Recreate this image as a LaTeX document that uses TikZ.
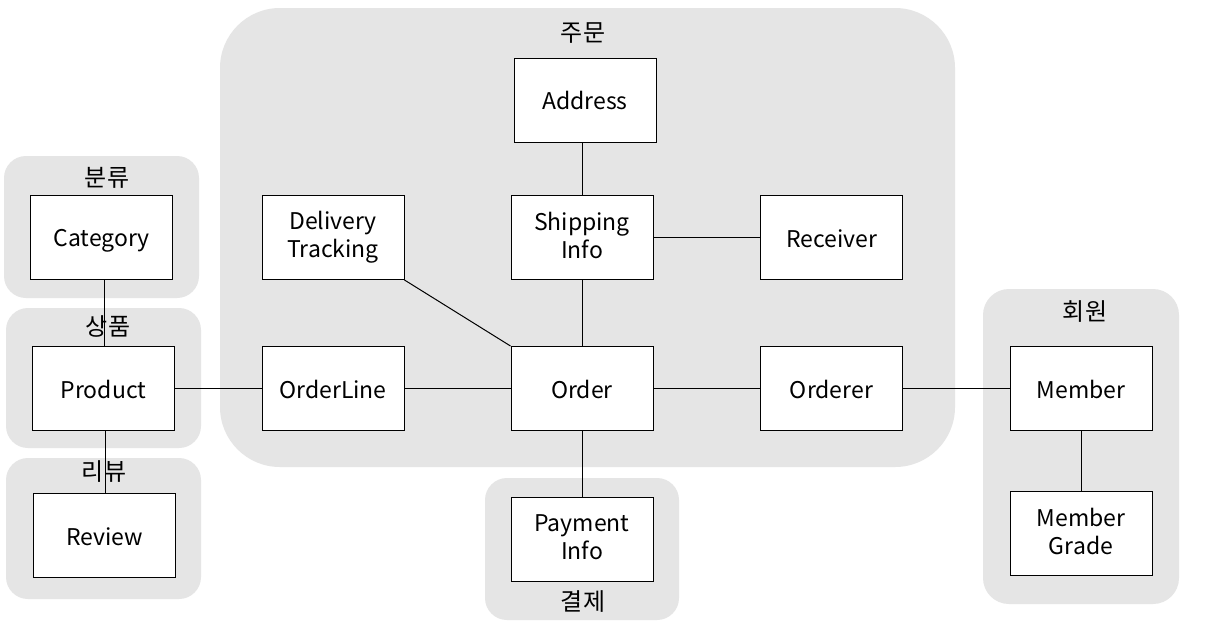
\documentclass[tikz,border=0pt]{standalone}
\usepackage{fontspec}
\setmainfont{Noto Sans CJK KR}
\usetikzlibrary{positioning}

\newcommand\estrut{\rule[-4.4pt]{0pt}{28pt}}
\newcommand\entityfont{\fontsize{23}{28}\selectfont\lineskiplimit=-20pt\relax}

\tikzset{
  areabox/.style={fill=black!10, draw=none},
  entity/.style={draw, fill=white, line width=1pt, minimum width=142pt,
    minimum height=84pt, align=center, font=\entityfont,
    execute at begin node=\estrut},
  arealabel/.style={font=\fontsize{24}{26}\selectfont, inner sep=0pt},
  link/.style={line width=1pt}
}

\begin{document}
\begin{tikzpicture}[x=1pt,y=-1pt]
  \useasboundingbox[fill=white] (0,0) rectangle (1207,633);
  % areas
  \fill[areabox, rounded corners=60pt] (220,8) rectangle (955,467);
  \fill[areabox, rounded corners=22pt] (4,156) rectangle (199,298);
  \fill[areabox, rounded corners=22pt] (6,308) rectangle (201,448);
  \fill[areabox, rounded corners=22pt] (6,458) rectangle (201,599);
  \fill[areabox, rounded corners=22pt] (485,478) rectangle (679,620);
  \fill[areabox, rounded corners=26pt] (983,289) rectangle (1179,604);
  \node[arealabel] (tOrder)  at (583,33)   {주문};
  \node[arealabel] (tCat)    at (107,178)  {분류};
  \node[arealabel] (tProd)   at (108,326)  {상품};
  \node[arealabel] (tReview) at (104,472)  {리뷰};
  \node[arealabel] (tPay)    at (583,601)  {결제};
  \node[arealabel] (tMember) at (1085,312) {회원};
  % entities
  \node[entity] (addr)    at (585,100)     {Address};
  \node[entity] (track)   at (333,237.5)   {Delivery\\\estrut Tracking};
  \node[entity] (ship)    at (582,237.5)   {Shipping\\\estrut Info};
  \node[entity] (recv)    at (831.5,237.5) {Receiver};
  \node[entity] (cat)     at (101.5,237.5) {Category};
  \node[entity] (prod)    at (103.5,388.5) {Product};
  \node[entity] (line)    at (333,388.5)   {OrderLine};
  \node[entity] (order)   at (582,388.5)   {Order};
  \node[entity] (orderer) at (831.5,388.5) {Orderer};
  \node[entity] (member)  at (1081,388.5)  {Member};
  \node[entity] (review)  at (104.5,535.5) {Review};
  \node[entity] (pay)     at (582,539)     {Payment\\\estrut Info};
  \node[entity] (grade)   at (1081,533.5)  {Member\\\estrut Grade};
  % links
  \draw[link] (ship.north) -- (ship.north |- addr.south);
  \draw[link] (ship) -- (recv);
  \draw[link] (ship) -- (order);
  \draw[link] (track.south east) -- (order.north west);
  \draw[link] (prod) -- (line);
  \draw[link] (line) -- (order);
  \draw[link] (order) -- (orderer);
  \draw[link] (orderer) -- (member);
  \draw[link] (member) -- (grade);
  \draw[link] (order) -- (pay);
  \coordinate (catlink) at (104.5,0);
  \coordinate (revlink) at (105.7,0);
  \draw[link] (catlink |- cat.south) -- (catlink |- prod.north);
  \draw[link] (revlink |- prod.south) -- (revlink |- review.north);
\end{tikzpicture}
\end{document}
